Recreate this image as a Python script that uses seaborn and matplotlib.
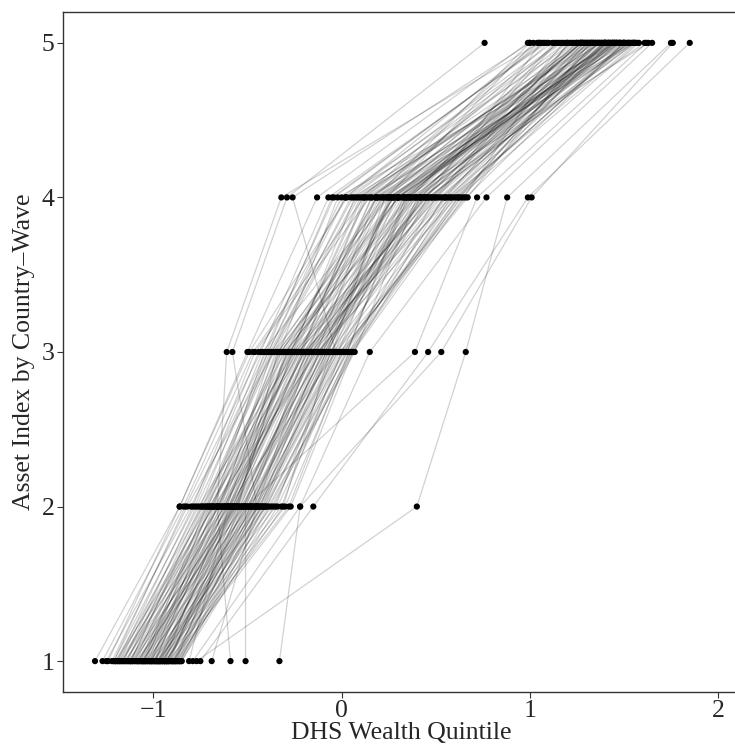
import matplotlib
matplotlib.use("Agg")
import matplotlib.pyplot as plt
import seaborn as sns
import pandas as pd
import numpy as np

# DHS wealth score of each country-wave at asset-index quintiles 1..5
q1 = [-1.27, -1.25, -1.22, -1.21, -1.20, -1.19, -1.18, -1.17, -1.16, -1.15,
      -1.14, -1.13, -1.12, -1.11, -1.10, -1.09, -1.08, -1.08, -1.07, -1.06,
      -1.06, -1.05, -1.04, -1.04, -1.03, -1.02, -1.02, -1.01, -1.00, -1.00,
      -0.99, -0.99, -0.98, -0.98, -0.97, -0.97, -0.96, -0.96, -0.95, -0.95,
      -0.94, -0.94, -0.93, -0.93, -0.92, -0.92, -0.91, -0.91, -0.90, -0.90,
      -0.89, -0.89, -0.88, -0.88, -0.87, -0.87, -0.86, -0.86, -0.85, -0.85,
      -1.24, -1.21, -1.19, -1.16, -1.14, -1.12, -1.10, -1.07, -1.05, -1.03,
      -1.01, -0.99, -0.97, -0.95, -0.93, -1.18, -1.15, -1.13, -1.11, -1.09,
      -1.06, -1.04, -1.02, -1.00, -0.98, -0.96, -0.94, -0.92, -0.90, -0.88,
      -1.20, -1.17, -1.12, -1.08, -1.05, -1.01, -0.97, -0.93, -0.89, -0.86,
      -0.77, -0.75, -0.33, -0.51, -0.59, -0.69, -0.81, -1.31, -0.79]
q2 = [-0.84, -0.80, -0.82, -0.78, -0.74, -0.71, -0.76, -0.68, -0.72, -0.65,
      -0.70, -0.62, -0.74, -0.66, -0.60, -0.69, -0.58, -0.64, -0.56, -0.67,
      -0.53, -0.61, -0.57, -0.70, -0.50, -0.59, -0.63, -0.55, -0.48, -0.58,
      -0.52, -0.66, -0.47, -0.54, -0.60, -0.45, -0.51, -0.57, -0.49, -0.44,
      -0.53, -0.62, -0.46, -0.42, -0.55, -0.50, -0.43, -0.58, -0.40, -0.48,
      -0.52, -0.41, -0.45, -0.54, -0.38, -0.47, -0.36, -0.43, -0.39, -0.34,
      -0.86, -0.83, -0.79, -0.77, -0.75, -0.73, -0.71, -0.69, -0.64, -0.66,
      -0.61, -0.63, -0.56, -0.59, -0.51, -0.65, -0.60, -0.56, -0.52, -0.49,
      -0.46, -0.44, -0.40, -0.37, -0.35, -0.32, -0.30, -0.28, -0.27, -0.31,
      -0.68, -0.62, -0.57, -0.55, -0.72, -0.68, -0.42, -0.48, -0.45, -0.41,
      0.40, -0.15, -0.22, -0.51, -0.66, -0.45, -0.60, -0.86, -0.22]
q3 = [-0.47, -0.40, -0.36, -0.44, -0.30, -0.38, -0.25, -0.33, -0.28, -0.35,
      -0.22, -0.31, -0.37, -0.19, -0.27, -0.34, -0.21, -0.16, -0.29, -0.24,
      -0.12, -0.32, -0.18, -0.26, -0.08, -0.23, -0.14, -0.30, -0.10, -0.20,
      -0.17, -0.28, -0.06, -0.15, -0.22, -0.04, -0.13, -0.11, -0.19, -0.02,
      -0.09, -0.25, -0.07, 0.00, -0.14, -0.05, -0.12, -0.20, 0.01, -0.08,
      -0.16, 0.03, -0.03, -0.18, 0.05, -0.10, 0.02, -0.01, 0.07, 0.04,
      -0.49, -0.43, -0.46, -0.39, -0.42, -0.36, -0.32, -0.27, -0.37, -0.24,
      -0.29, -0.33, -0.21, -0.26, -0.15, -0.23, -0.18, -0.11, -0.09, -0.05,
      -0.02, 0.01, 0.03, 0.06, -0.04, 0.00, 0.05, 0.04, 0.06, -0.06,
      -0.13, -0.20, -0.26, -0.34, -0.39, -0.41, -0.08, -0.12, -0.17, -0.07,
      0.66, 0.46, 0.53, 0.39, -0.61, -0.58, -0.03, -0.50, 0.15]
q4 = [0.12, -0.05, 0.25, 0.02, 0.35, 0.06, 0.18, -0.02, 0.40, 0.22,
      0.16, 0.30, 0.08, 0.45, 0.10, 0.28, 0.20, 0.50, 0.14, 0.42,
      0.32, 0.24, 0.55, 0.19, 0.38, 0.47, 0.27, 0.36, 0.33, 0.58,
      0.21, 0.30, 0.42, 0.52, 0.13, 0.39, 0.61, 0.26, 0.44, 0.34,
      0.37, 0.48, 0.29, 0.64, 0.46, 0.23, 0.53, 0.31, 0.57, 0.41,
      0.49, 0.35, 0.66, 0.43, 0.54, 0.27, 0.60, 0.67, 0.40, 0.62,
      0.03, -0.07, 0.15, 0.00, 0.24, 0.09, 0.19, 0.11, 0.05, 0.30,
      0.28, 0.39, 0.12, 0.45, 0.22, 0.51, 0.16, 0.56, 0.36, 0.33,
      0.46, 0.62, 0.34, 0.65, 0.59, 0.42, 0.63, 0.50, 0.58, 0.55,
      0.18, 0.37, 0.07, 0.30, 0.02, -0.04, 0.25, 0.48, 0.44, 0.26,
      0.88, 0.99, 1.01, 0.72, -0.32, -0.29, -0.26, -0.13, 0.77]
q5 = [1.30, 1.08, 1.42, 1.12, 1.22, 1.35, 1.00, 1.46, 1.25, 1.20,
      1.15, 1.28, 1.38, 1.06, 1.32, 1.48, 1.24, 1.18, 1.52, 1.14,
      1.45, 1.26, 1.30, 1.54, 1.40, 1.36, 1.50, 1.33, 1.27, 1.43,
      1.38, 1.55, 1.29, 1.47, 1.44, 1.31, 1.50, 1.41, 1.37, 1.34,
      1.49, 1.31, 1.53, 1.40, 1.56, 1.28, 1.45, 1.42, 1.39, 1.46,
      1.41, 1.27, 1.50, 1.55, 1.35, 1.45, 1.51, 1.32, 1.48, 1.58,
      1.23, 1.09, 1.40, 1.16, 1.02, 1.33, 1.10, 1.05, 1.17, 1.44,
      1.25, 1.53, 1.19, 1.29, 1.47, 1.21, 1.37, 1.50, 1.27, 1.43,
      1.56, 1.36, 1.63, 1.20, 1.52, 1.61, 1.34, 1.44, 1.57, 1.40,
      1.48, 1.13, 1.28, 1.46, 1.04, 1.07, 1.55, 1.39, 1.33, 1.42,
      1.75, 1.85, 1.76, 1.62, 1.05, 0.76, 1.00, 0.99, 1.65]

quintiles = [1, 2, 3, 4, 5]
x_ticks = [-1, 0, 1, 2]
y_ticks = [1, 2, 3, 4, 5]

rows = []
for i in range(len(q1)):
    for q, vals in zip(quintiles, [q1, q2, q3, q4, q5]):
        rows.append({"cw": i, "asset": q, "dhs": vals[i]})
df = pd.DataFrame(rows)

sns.set_style("white")
plt.rcParams["font.family"] = ["Liberation Serif", "DejaVu Serif"]

fig = plt.figure(figsize=(7.35, 7.47), dpi=100)
ax = fig.add_axes([0.0857, 0.0736, 0.9193, 0.9104])

sns.lineplot(data=df, x="dhs", y="asset", units="cw", estimator=None,
             color="black", alpha=0.18, linewidth=0.9, sort=False, ax=ax,
             legend=False)
sns.scatterplot(data=df, x="dhs", y="asset", color="black", s=20,
                edgecolor="none", ax=ax, legend=False, zorder=3)

ax.set_xlim(-1.48, 2.11)
ax.set_ylim(0.80, 5.20)
ax.set_xticks(x_ticks)
ax.set_xticklabels(["\u22121", "0", "1", "2"])
ax.set_yticks(y_ticks)
ax.set_xlabel("DHS Wealth Quintile", fontsize=18.5, labelpad=0)
ax.set_ylabel("Asset Index by Country\u2013Wave", fontsize=18.5, labelpad=5)
ax.tick_params(axis="both", labelsize=18.5, length=4, width=0.8,
               direction="out", bottom=True, left=True, pad=2, color="#333333")
for sp in ax.spines.values():
    sp.set_color("#333333")
    sp.set_linewidth(1.0)

fig.savefig("out.png", dpi=100)
